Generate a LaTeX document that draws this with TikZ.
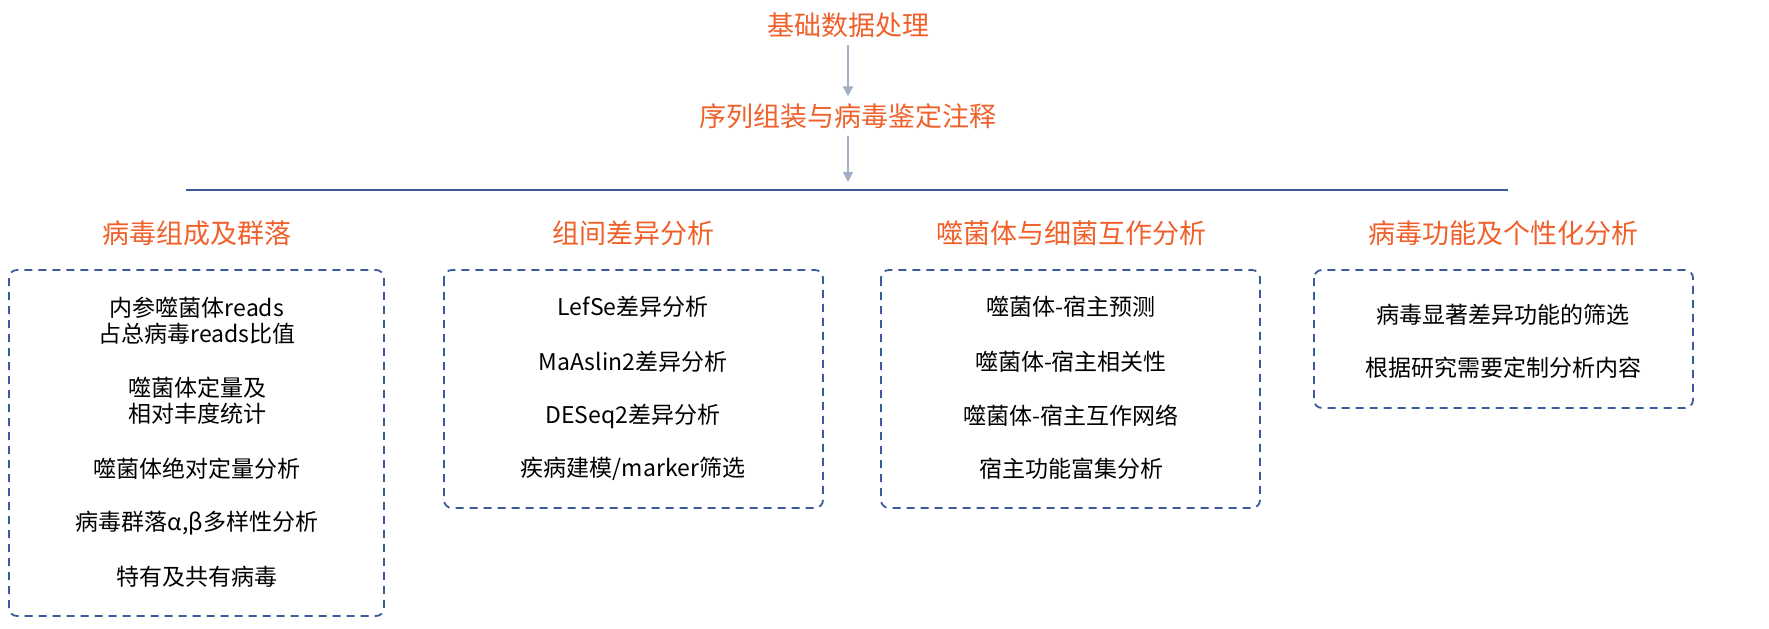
\documentclass[tikz,border=0pt]{standalone}
\usepackage{fontspec}
\setmainfont{Noto Sans CJK SC}
\usetikzlibrary{arrows.meta}
\definecolor{myorange}{HTML}{F0602A}
\definecolor{myblue}{HTML}{3A5A9C}
\definecolor{mygrey}{HTML}{A3AFC6}

\begin{document}
\begin{tikzpicture}[x=0.5pt,y=-0.5pt,
    every node/.style={font=\fontsize{11.5}{13}\selectfont},
    stage/.style={text=myorange,font=\fontsize{13.5}{16}\selectfont},
    flow/.style={-{Triangle[length=5pt,width=5pt]},draw=mygrey,line width=0.9pt},
    panel/.style={draw=myblue,dashed,dash pattern=on 4pt off 3pt,line width=0.9pt,rounded corners=4pt},
    item/.style={align=center}
]
\useasboundingbox (0,0) rectangle (1769,628);

\node [stage] (base) at (848,25) {基础数据处理};
\node [stage] (asm) at (848,116) {序列组装与病毒鉴定注释};
\coordinate (bar) at (848,182);
\draw [flow] (base) -- (asm);
\draw [flow] (asm) -- (bar);
\draw [myblue,line width=1pt] (186,190) -- (1508,190);

% column titles
\node [stage] (t1) at (197,233) {病毒组成及群落};
\node [stage] (t2) at (633,233) {组间差异分析};
\node [stage] (t3) at (1071,233) {噬菌体与细菌互作分析};
\node [stage] (t4) at (1503,233) {病毒功能及个性化分析};

% panels
\draw [panel] (9,270) rectangle (384,616);
\draw [panel] (444,270) rectangle (823,508);
\draw [panel] (881,270) rectangle (1260,508);
\draw [panel] (1314,270) rectangle (1693,408);

\node [item] (a1) at (197,321) {内参噬菌体reads\\占总病毒reads比值};
\node [item] (a2) at (197,401) {噬菌体定量及\\相对丰度统计};
\node [item] (a3) at (197,469) {噬菌体绝对定量分析};
\node [item] (a4) at (197,523) {病毒群落α,β多样性分析};
\node [item] (a5) at (197,577) {特有及共有病毒};

\node [item] (b1) at (633,307) {LefSe差异分析};
\node [item] (b2) at (633,362) {MaAslin2差异分析};
\node [item] (b3) at (633,416) {DESeq2差异分析};
\node [item] (b4) at (633,469) {疾病建模/marker筛选};

\node [item] (c1) at (1071,307) {噬菌体-宿主预测};
\node [item] (c2) at (1071,362) {噬菌体-宿主相关性};
\node [item] (c3) at (1071,416) {噬菌体-宿主互作网络};
\node [item] (c4) at (1071,469) {宿主功能富集分析};

\node [item] (d1) at (1503,315) {病毒显著差异功能的筛选};
\node [item] (d2) at (1503,368) {根据研究需要定制分析内容};

\end{tikzpicture}
\end{document}
